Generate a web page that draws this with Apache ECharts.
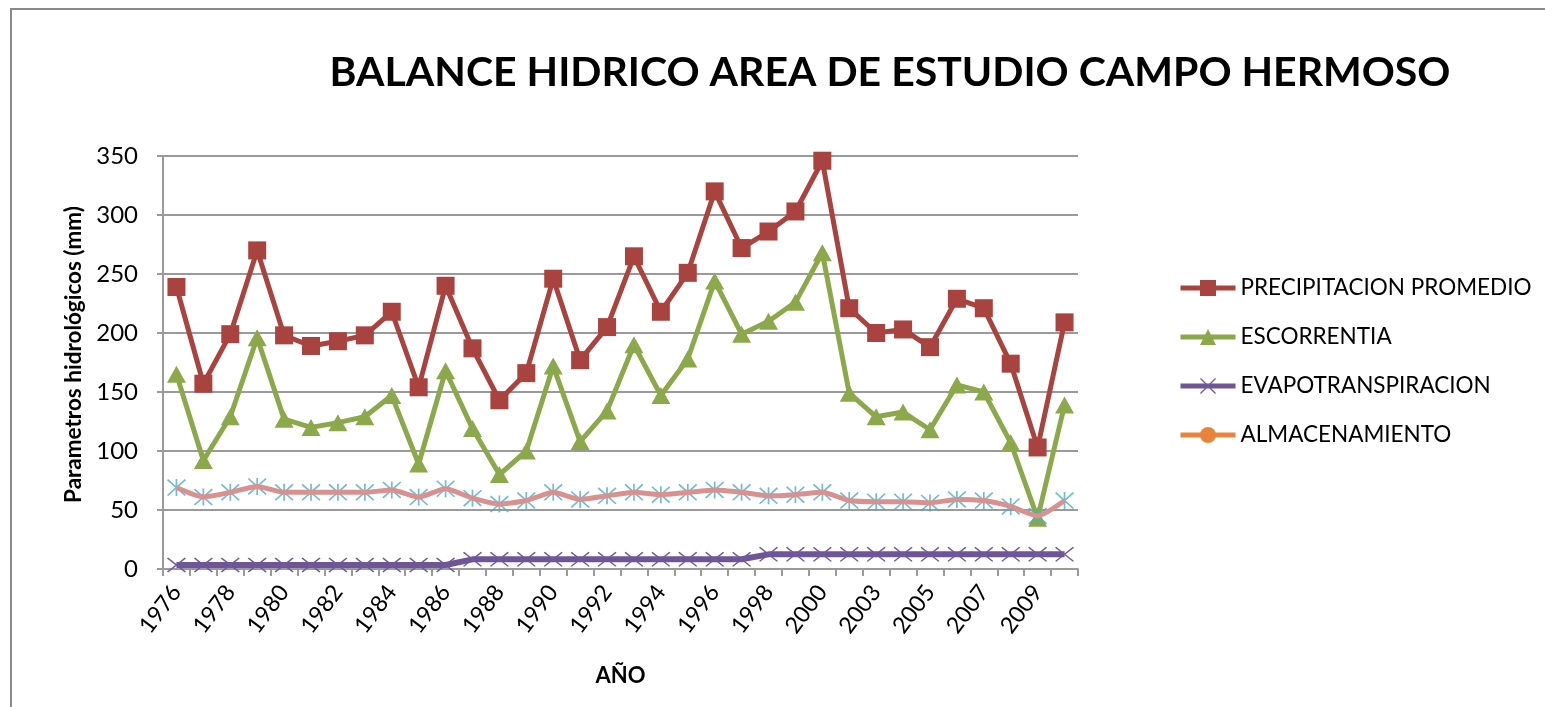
<!DOCTYPE html>
<html>
<head>
<meta charset="utf-8">
<script src="https://cdn.jsdelivr.net/npm/echarts@6/dist/echarts.min.js"></script>
<style>
  html, body { margin: 0; padding: 0; background: #fff; }
  #chart { width: 1545px; height: 707px; }
</style>
</head>
<body>
<div id="chart"></div>
<script>
// Años del periodo de estudio
const years = ['1976','1977','1978','1979','1980','1981','1982','1983','1984','1985',
  '1986','1987','1988','1989','1990','1991','1992','1993','1994','1995','1996','1997',
  '1998','1999','2000','2002','2003','2004','2005','2006','2007','2008','2009','2010'];

// Parámetros hidrológicos (mm)
const precipitacion = [239,157,199,270,198,189,193,198,218,154,240,187,143,166,246,177,205,265,218,251,320,272,286,303,346,221,200,203,188,229,221,174,103,209];
const escorrentia = [165,92,129,196,127,120,124,129,147,89,168,119,80,100,172,108,134,190,147,178,244,199,210,226,268,149,129,133,118,156,150,107,43,139];
const evapotranspiracion = [3.4,3.4,3.4,3.4,3.4,3.4,3.4,3.4,3.4,3.4,3.4,8.2,8.2,8.2,8.2,8.2,8.2,8.2,8.2,8.2,8.2,8.2,12.4,12.4,12.4,12.4,12.4,12.4,12.4,12.4,12.4,12.4,12.4,12.4];
const almacenamiento = [69,61,65,70,65,65,65,65,67,61,68,60,55,58,65,59,62,65,63,65,67,65,62,63,65,58,57,57,56,59,58,53,45,58];

const yTicks = { min: 0, max: 350, step: 50 };

const FONT = "Lato, 'Open Sans', sans-serif";
const GRID_GRAY = '#9a9a9a';

// Marcadores: asterisco (X con barra vertical) y aspa
const ASTERISK = 'path://M9.1 0 L10.9 0 L10.9 20 L9.1 20 Z M0 1.3 L1.3 0 L20 18.7 L18.7 20 Z M18.7 0 L20 1.3 L1.3 20 L0 18.7 Z';
const CROSS = 'path://M0 1.2 L1.2 0 L20 18.8 L18.8 20 Z M18.8 0 L20 1.2 L1.2 20 L0 18.8 Z';

const chart = echarts.init(document.getElementById('chart'), null, { renderer: 'canvas' });

chart.setOption({
  backgroundColor: '#ffffff',
  animation: false,
  textStyle: { fontFamily: FONT },
  graphic: [{
    type: 'rect',
    shape: { x: 11, y: 9, width: 1700, height: 900 },
    style: { fill: 'none', stroke: '#8a8a8a', lineWidth: 2 },
    silent: true, z: -1
  }],
  title: {
    text: 'BALANCE HIDRICO AREA DE ESTUDIO CAMPO HERMOSO',
    left: 885, top: 47, textAlign: 'center',
    textStyle: { fontFamily: FONT, fontSize: 41, fontWeight: 'bold', color: '#000' }
  },
  grid: { left: 163, right: 467, top: 156, bottom: 138, containLabel: false },
  legend: {
    orient: 'vertical',
    left: 1178, top: 276, padding: 0,
    itemWidth: 55, itemHeight: 20, itemGap: 25,
    lineStyle: { width: 5 },
    textStyle: { fontFamily: FONT, fontSize: 22.5, color: '#000', lineHeight: 24 },
    data: [
      { name: 'PRECIPITACION PROMEDIO' },
      { name: 'ESCORRENTIA' },
      { name: 'EVAPOTRANSPIRACION' },
      { name: 'ALMACENAMIENTO',
        itemStyle: { color: '#E8843B' }, lineStyle: { color: '#E8843B', width: 5 } }
    ]
  },
  xAxis: {
    type: 'category',
    data: years,
    boundaryGap: true,
    name: 'AÑO',
    nameLocation: 'middle',
    nameGap: 96,
    nameTextStyle: { fontFamily: FONT, fontSize: 22, fontWeight: 'bold', color: '#000' },
    axisLine: { lineStyle: { color: GRID_GRAY, width: 2 } },
    axisTick: { show: true, interval: 0, length: 7, lineStyle: { color: GRID_GRAY, width: 2 } },
    axisLabel: { interval: 1, rotate: 53, margin: 19, fontFamily: FONT, fontSize: 23, color: '#000' },
    splitLine: { show: false }
  },
  yAxis: {
    type: 'value',
    min: yTicks.min, max: yTicks.max, interval: yTicks.step,
    name: 'Parametros hidrológicos (mm)',
    nameLocation: 'middle',
    nameGap: 74,
    nameTextStyle: { fontFamily: FONT, fontSize: 22.5, fontWeight: 'bold', color: '#000', padding: [0, 0, 0, 16] },
    axisLine: { show: true, lineStyle: { color: GRID_GRAY, width: 2 } },
    axisTick: { show: true, length: 6, lineStyle: { color: GRID_GRAY, width: 2 } },
    axisLabel: { margin: 25, fontFamily: FONT, fontSize: 24, color: '#000' },
    splitLine: { show: true, lineStyle: { color: GRID_GRAY, width: 2 } }
  },
  series: [
    {
      name: 'PRECIPITACION PROMEDIO', type: 'line', data: precipitacion,
      symbol: 'rect', symbolSize: 18, showAllSymbol: true, z: 3,
      itemStyle: { color: '#A9433F' },
      lineStyle: { color: '#A9433F', width: 5 }
    },
    {
      name: 'ESCORRENTIA', type: 'line', data: escorrentia,
      symbol: 'triangle', symbolSize: [19, 17], showAllSymbol: true, z: 4,
      itemStyle: { color: '#8BA84A' },
      lineStyle: { color: '#8BA84A', width: 5 }
    },
    {
      name: 'EVAPOTRANSPIRACION', type: 'line', data: evapotranspiracion,
      symbol: CROSS, symbolSize: [19, 15], showAllSymbol: true, z: 5,
      itemStyle: { color: '#7058A0' },
      lineStyle: { color: '#6E5595', width: 6 }
    },
    {
      name: 'almacenamiento-marcador', type: 'scatter', data: almacenamiento,
      symbol: ASTERISK, symbolSize: [19, 17], z: 5,
      itemStyle: { color: '#4BACC6' }
    },
    {
      name: 'ALMACENAMIENTO', type: 'line', data: almacenamiento,
      symbol: 'circle', symbolSize: 14, showSymbol: false, smooth: 0.2, z: 6,
      itemStyle: { color: '#D8918F' },
      lineStyle: { color: '#D8918F', width: 5 }
    }
  ]
});
</script>
</body>
</html>
